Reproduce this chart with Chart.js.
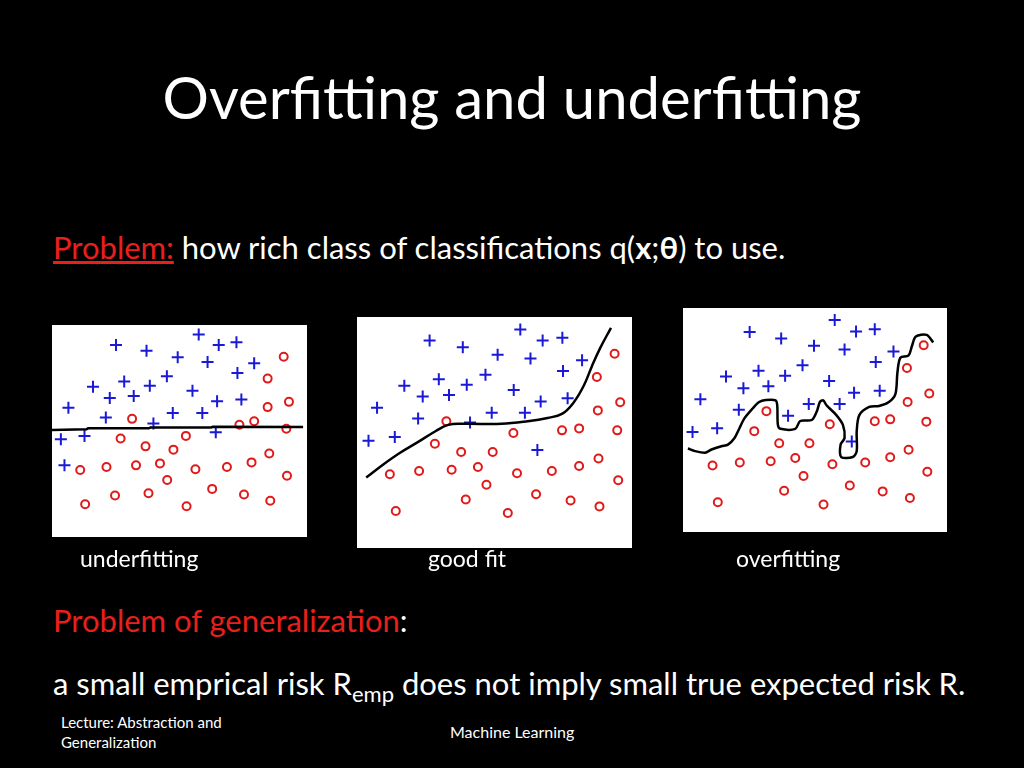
<!DOCTYPE html>
<html>
<head>
<meta charset="utf-8">
<script src="https://cdn.jsdelivr.net/npm/chart.js@4"></script>
<style>
body { margin:0; width:1024px; height:768px; background:#000; position:relative; overflow:hidden; font-family: Lato, "Open Sans", sans-serif; color:#fff; }
.t { position:absolute; white-space:nowrap; }
.box { position:absolute; background:#fff; }
.cv { position:absolute; }
.red { color:#e8201c; }
</style>
</head>
<body>
<div class="t" style="left:0;width:1024px;text-align:center;top:62px;font-size:58px;">Overfitting and underfitting</div>
<div class="t" style="left:53px;top:228px;font-size:31px;"><span class="red" style="text-decoration:underline">Problem:</span> how rich class of classifications q(<b>x</b>;<b>θ</b>) to use.</div>

<div class="box" style="left:52px;top:325px;width:255px;height:212px"></div>
<div class="box" style="left:357px;top:317px;width:275px;height:231px"></div>
<div class="box" style="left:683px;top:308px;width:264px;height:224px"></div>
<div class="cv" style="left:44px;top:314px;width:272px;height:232px"><canvas id="c1"></canvas></div>
<div class="cv" style="left:349px;top:309px;width:292px;height:247px"><canvas id="c2"></canvas></div>
<div class="cv" style="left:674px;top:299px;width:282px;height:242px"><canvas id="c3"></canvas></div>

<div class="t" style="left:80px;top:544px;font-size:23px;">underfitting</div>
<div class="t" style="left:428px;top:544px;font-size:23px;">good fit</div>
<div class="t" style="left:736px;top:544px;font-size:23px;">overfitting</div>

<div class="t" style="left:53px;top:601px;font-size:31px;"><span class="red">Problem of generalization</span>:</div>
<div class="t" style="left:53px;top:664px;font-size:31px;">a small emprical risk R<sub style="font-size:22px">emp</sub> does not imply small true expected risk R.</div>
<div class="t" style="left:61px;top:712px;font-size:15px;line-height:20px;">Lecture: Abstraction and<br>Generalization</div>
<div class="t" style="left:450px;top:722px;font-size:16px;">Machine Learning</div>

<script>
// panel 1 - underfitting (coords in 3x zoom pixels of panel)
const p1Plus = [[447,38],[195,70],[288,88],[508,70],[562,62],[383,108],[474,122],[616,126],[565,156],[125,198],[220,182],[298,195],[350,166],[428,210],[176,232],[249,226],[50,262],[503,242],[577,237],[164,292],[309,310],[368,278],[458,278],[27,358],[99,348],[499,337],[38,438]];
const p1Circ = [[706,106],[657,173],[657,260],[722,244],[244,296],[571,314],[616,303],[714,326],[209,356],[408,348],[285,380],[370,390],[662,402],[86,452],[166,443],[256,438],[329,432],[437,450],[533,443],[608,429],[351,483],[716,470],[488,510],[101,557],[192,530],[294,523],[410,563],[585,527],[665,546]];
const p1Line = [[0,330],[105,328],[110,325],[295,325],[300,322],[485,322],[490,320],[765,321]];

// panel 2 - good fit
const p2Plus = [[497,38],[221,72],[322,92],[565,72],[625,63],[428,115],[528,127],[685,132],[627,165],[144,210],[249,190],[334,207],[391,176],[477,223],[200,243],[280,238],[61,277],[559,258],[641,248],[186,310],[344,322],[410,292],[511,292],[35,378],[115,366],[549,406]];
const p2Circ = [[784,112],[730,183],[733,285],[801,260],[272,318],[624,346],[676,340],[792,346],[237,387],[476,354],[317,412],[413,412],[735,432],[100,480],[189,470],[288,466],[368,458],[487,477],[593,470],[676,455],[394,512],[795,498],[545,541],[118,592],[331,557],[459,598],[650,560],[738,578]];
const p2Line = [[28,490],[80,450],[130,415],[180,385],[240,348],[275,330],[320,326],[440,326],[520,318],[580,308],[625,295],[660,260],[690,210],[715,150],[740,95],[773,33]];

// panel 3 - overfitting
const p3Plus = [[465,40],[206,76],[302,96],[530,75],[587,68],[402,118],[495,130],[644,136],[590,168],[134,212],[233,195],[314,210],[367,178],[448,226],[187,248],[263,242],[56,282],[524,262],[602,256],[173,314],[323,332],[386,296],[480,296],[32,382],[107,370],[517,411]];
const p3Circ = [[736,117],[685,186],[687,290],[753,264],[257,318],[587,349],[634,343],[744,350],[220,379],[450,358],[296,416],[388,416],[690,436],[93,484],[176,475],[270,471],[345,461],[458,480],[558,475],[634,459],[370,516],[747,503],[511,545],[109,596],[311,561],[431,603],[611,563],[694,583]];
const p3Line = [[18,432],[40,440],[70,445],[90,435],[120,425],[140,420],[160,400],[175,370],[190,340],[215,310],[235,290],[255,284],[285,285],[290,300],[292,360],[300,372],[345,372],[360,348],[395,345],[410,320],[420,290],[430,285],[440,300],[470,330],[490,360],[495,400],[483,420],[485,458],[520,458],[532,440],[532,380],[540,330],[570,305],[600,302],[630,290],[650,265],[656,200],[665,155],[690,148],[700,120],[712,90],[745,85],[765,108]];

const toXY = arr => arr.map(p => ({x: p[0], y: p[1]}));

function makePanel(id, w, h, plus, circ, line, tension) {
    new Chart(document.getElementById(id), {
        type: 'scatter',
        data: {
            datasets: [
                {
                    type: 'line',
                    data: toXY(line),
                    borderColor: '#000',
                    borderWidth: 2.5,
                    pointRadius: 0,
                    tension: tension,
                    fill: false
                },
                {
                    data: toXY(plus),
                    pointStyle: 'cross',
                    pointRadius: 6,
                    borderColor: '#1a1ad6',
                    borderWidth: 2
                },
                {
                    data: toXY(circ),
                    pointStyle: 'circle',
                    pointRadius: 4,
                    borderColor: '#e01a1a',
                    backgroundColor: '#fff',
                    borderWidth: 2
                }
            ]
        },
        options: {
            animation: false,
            responsive: true,
            maintainAspectRatio: false,
            layout: { padding: 0 },
            scales: {
                x: { display: false, min: 0, max: w },
                y: { display: false, min: 0, max: h, reverse: true }
            },
            plugins: { legend: { display: false }, tooltip: { enabled: false } }
        }
    });
}

makePanel("c1", 780, 660, p1Plus, p1Circ, p1Line, 0);
makePanel("c2", 840, 705, p2Plus, p2Circ, p2Line, 0.4);
makePanel("c3", 810, 690, p3Plus, p3Circ, p3Line, 0.3);
</script>
</body>
</html>
